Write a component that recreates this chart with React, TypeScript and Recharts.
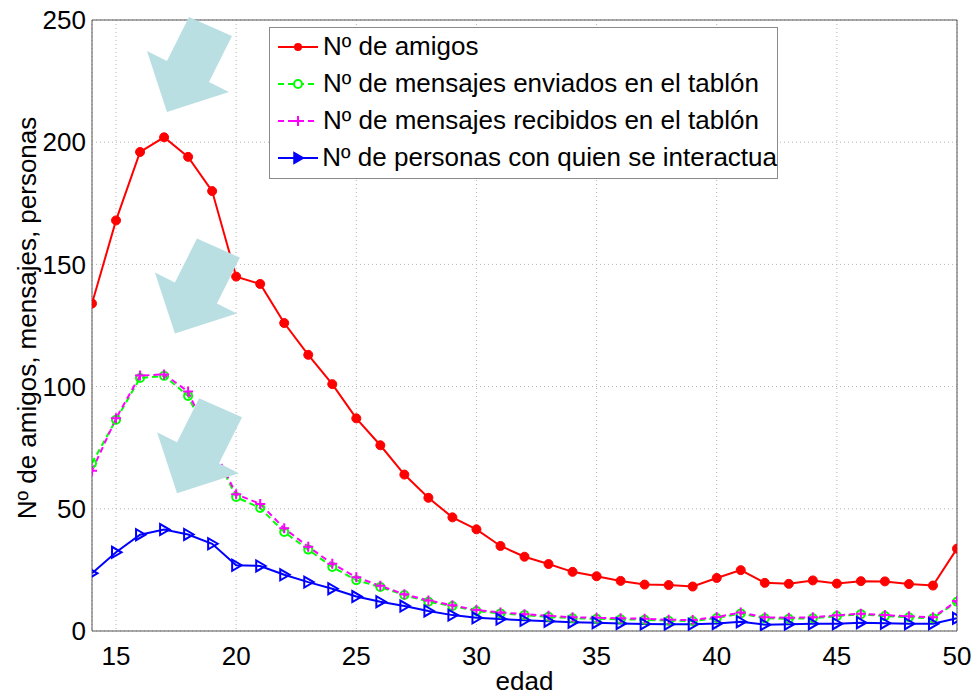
import React from 'react';
import {
  LineChart,
  Line,
  XAxis,
  YAxis,
  CartesianGrid,
  Legend,
  ReferenceDot,
} from 'recharts';

const ages = [14, 15, 16, 17, 18, 19, 20, 21, 22, 23, 24, 25, 26, 27, 28, 29, 30, 31, 32, 33, 34, 35, 36, 37, 38, 39, 40, 41, 42, 43, 44, 45, 46, 47, 48, 49, 50];
const amigos = [134, 168, 196, 202, 194, 180, 145, 142, 126, 113, 101, 87, 76, 64, 54.5, 46.5, 41.6, 34.8, 30.4, 27.4, 24.2, 22.4, 20.5, 19.0, 18.8, 18.2, 21.7, 24.9, 19.7, 19.3, 20.7, 19.4, 20.4, 20.3, 19.2, 18.6, 33.7];
const enviados = [68.6, 86.4, 103.5, 104.4, 96.2, 75, 54.8, 50.3, 40.5, 33.3, 26.2, 20.8, 18, 14.7, 12, 10.2, 8.2, 7.2, 6.5, 5.8, 5.2, 5, 4.8, 4.6, 4.2, 4.1, 5.3, 7.2, 5.2, 5, 5.2, 6.1, 6.9, 6.1, 5.6, 5.2, 12];
const recibidos = [65.6, 87, 104.5, 105, 98, 76, 56, 52, 42, 34.5, 27.5, 22, 18.5, 15, 12.5, 10.5, 8.6, 7.6, 6.9, 6.2, 5.6, 5.4, 5.2, 5, 4.6, 4.5, 5.7, 7.6, 5.6, 5.4, 5.6, 6.4, 7.1, 6.5, 6, 5.6, 12.3];
const personas = [23.6, 32.2, 39.4, 41.5, 39.5, 35.7, 26.9, 26.6, 23.0, 20.0, 17.3, 14.1, 12, 10.2, 8.2, 6.5, 5.4, 4.9, 4.4, 4, 3.6, 3.4, 3.1, 2.9, 2.8, 2.8, 3.1, 3.8, 2.6, 2.8, 3, 3, 3.4, 3.2, 3, 3, 5.2];

const xTicks = [15, 20, 25, 30, 35, 40, 45, 50];
const yTicks = [0, 50, 100, 150, 200, 250];

const arrowTipsX = [17.12, 17.45, 17.54];
const arrowTipsY = [212.4, 121.7, 56.4];

const seriesNames = [
  'Nº de amigos',
  'Nº de mensajes enviados en el tablón',
  'Nº de mensajes recibidos en el tablón',
  'Nº de personas con quien se interactua',
];

const data = ages.map((a, i) => ({
  age: a,
  amigos: amigos[i],
  enviados: enviados[i],
  recibidos: recibidos[i],
  personas: personas[i],
}));

const FONT = '"Liberation Sans", Arial, Helvetica, sans-serif';
const RED = '#ff0000';
const GREEN = '#00ff00';
const MAGENTA = '#ff00ff';
const BLUE = '#0000ff';
const AXIS = '#555555';

const RedDot = (p: any) => (
  <circle key={`r${p.index}`} cx={p.cx} cy={p.cy} r={4.5} fill={RED} stroke={RED} strokeWidth={1} />
);
const GreenDot = (p: any) => (
  <circle key={`g${p.index}`} cx={p.cx} cy={p.cy} r={4} fill="none" stroke={GREEN} strokeWidth={2} />
);
const PlusDot = (p: any) => (
  <path key={`m${p.index}`} d={`M${p.cx - 5},${p.cy}H${p.cx + 5}M${p.cx},${p.cy - 5}V${p.cy + 5}`} stroke={MAGENTA} strokeWidth={2} fill="none" />
);
const TriDot = (p: any) => (
  <polygon
    key={`b${p.index}`}
    points={`${p.cx - 4},${p.cy - 5.5} ${p.cx - 4},${p.cy + 5.5} ${p.cx + 5.5},${p.cy}`}
    fill="none"
    stroke={BLUE}
    strokeWidth={2}
  />
);

const Arrow = (p: any) => {
  const { cx, cy } = p;
  const pts = [
    [0, 0],
    [-20, -61],
    [0, -51],
    [22, -95],
    [65, -76],
    [42, -30],
    [62, -20],
  ]
    .map(([dx, dy]) => `${cx + dx},${cy + dy}`)
    .join(' ');
  return <polygon points={pts} fill="#badfe3" stroke="none" />;
};

const legendIcons = [
  (
    <svg width={44} height={14}>
      <line x1={2} y1={7} x2={42} y2={7} stroke={RED} strokeWidth={2} />
      <circle cx={22} cy={7} r={4} fill={RED} />
    </svg>
  ),
  (
    <svg width={44} height={14}>
      <line x1={2} y1={7} x2={42} y2={7} stroke={GREEN} strokeWidth={2} strokeDasharray="6 4" />
      <circle cx={22} cy={7} r={4} fill="white" stroke={GREEN} strokeWidth={2} />
    </svg>
  ),
  (
    <svg width={44} height={14}>
      <line x1={2} y1={7} x2={42} y2={7} stroke={MAGENTA} strokeWidth={2} strokeDasharray="6 4" />
      <path d="M17,7H27M22,2V12" stroke={MAGENTA} strokeWidth={2} />
    </svg>
  ),
  (
    <svg width={44} height={14}>
      <line x1={2} y1={7} x2={42} y2={7} stroke={BLUE} strokeWidth={2} />
      <polygon points="18,1.5 18,12.5 27.5,7" fill={BLUE} stroke={BLUE} strokeWidth={1.5} />
    </svg>
  ),
];

const renderLegend = () => (
  <div
    style={{
      width: 509,
      height: 152,
      boxSizing: 'border-box',
      border: '1px solid #8a8a8a',
      background: '#ffffff',
      paddingTop: 0,
      fontFamily: FONT,
      fontSize: 26,
      color: '#000',
    }}
  >
    {seriesNames.map((n, i) => (
      <div key={n} style={{ display: 'flex', alignItems: 'center', height: 37, whiteSpace: 'nowrap' }}>
        <div style={{ width: 6 }} />
        {legendIcons[i]}
        <span style={{ marginLeft: 3, lineHeight: '37px' }}>{n}</span>
      </div>
    ))}
  </div>
);

const YLabel = () => (
  <text
    x={27}
    y={318}
    transform="rotate(-90 27 318)"
    textAnchor="middle"
    dominantBaseline="central"
    style={{ fontFamily: FONT, fontSize: 26, fill: '#000' }}
  >
    Nº de amigos, mensajes, personas
  </text>
);

export default function App() {
  return (
    <div style={{ position: 'absolute', left: 0, top: 0, width: 975, height: 696, background: '#fff' }}>
      <LineChart
        width={975}
        height={696}
        data={data}
        margin={{ top: 20, right: 18, bottom: 0, left: 0 }}
        style={{ fontFamily: FONT }}
      >
        <CartesianGrid stroke="#b4b4b4" strokeDasharray="1 3" strokeWidth={1} />
        <XAxis
          dataKey="age"
          type="number"
          domain={[14, 50]}
          ticks={xTicks}
          height={65}
          tickLine={false}
          tickSize={8}
          tickMargin={8}
          axisLine={{ stroke: AXIS, strokeWidth: 1 }}
          tick={{ fill: '#000', fontSize: 26, fontFamily: FONT }}
          label={{ value: 'edad', position: 'insideBottom', offset: 6, fill: '#000', fontSize: 26, fontFamily: FONT }}
          allowDataOverflow
        />
        <XAxis
          xAxisId="bin"
          dataKey="age"
          type="number"
          domain={[14, 50]}
          ticks={xTicks}
          mirror
          tick={false}
          tickSize={8}
          axisLine={false}
          tickLine={{ stroke: AXIS }}
        />
        <XAxis
          xAxisId="top"
          orientation="top"
          dataKey="age"
          type="number"
          domain={[14, 50]}
          ticks={xTicks}
          mirror
          tick={false}
          tickSize={8}
          axisLine={{ stroke: AXIS }}
          tickLine={{ stroke: AXIS }}
        />
        <YAxis
          type="number"
          domain={[0, 250]}
          ticks={yTicks}
          width={92}
          tickLine={false}
          tickSize={0}
          tickMargin={6}
          axisLine={{ stroke: AXIS, strokeWidth: 1 }}
          tick={{ fill: '#000', fontSize: 26, fontFamily: FONT }}
          label={{ content: () => <YLabel /> }}
          allowDataOverflow
        />
        <YAxis
          yAxisId="lin"
          type="number"
          domain={[0, 250]}
          ticks={yTicks}
          mirror
          tick={false}
          tickSize={8}
          axisLine={false}
          tickLine={{ stroke: AXIS }}
        />
        <YAxis
          yAxisId="right"
          orientation="right"
          type="number"
          domain={[0, 250]}
          ticks={yTicks}
          mirror
          tick={false}
          tickSize={8}
          axisLine={{ stroke: AXIS }}
          tickLine={{ stroke: AXIS }}
        />
        <Line
          dataKey="amigos"
          stroke={RED}
          strokeWidth={2}
          dot={RedDot}
          activeDot={false}
          isAnimationActive={false}
          name={seriesNames[0]}
        />
        <Line
          dataKey="enviados"
          stroke={GREEN}
          strokeWidth={2}
          strokeDasharray="6 4"
          dot={GreenDot}
          activeDot={false}
          isAnimationActive={false}
          name={seriesNames[1]}
        />
        <Line
          dataKey="recibidos"
          stroke={MAGENTA}
          strokeWidth={2}
          strokeDasharray="6 4"
          dot={PlusDot}
          activeDot={false}
          isAnimationActive={false}
          name={seriesNames[2]}
        />
        <Line
          dataKey="personas"
          stroke={BLUE}
          strokeWidth={2}
          dot={TriDot}
          activeDot={false}
          isAnimationActive={false}
          name={seriesNames[3]}
        />
        {arrowTipsX.map((x, i) => (
          <ReferenceDot key={`a${i}`} x={x} y={arrowTipsY[i]} shape={Arrow} ifOverflow="visible" zIndex={1000} />
        ))}
        <Legend
          layout="vertical"
          align="center"
          verticalAlign="middle"
          content={renderLegend}
          wrapperStyle={{ left: 269, top: 27, width: 509, height: 152 }}
        />
      </LineChart>
    </div>
  );
}
